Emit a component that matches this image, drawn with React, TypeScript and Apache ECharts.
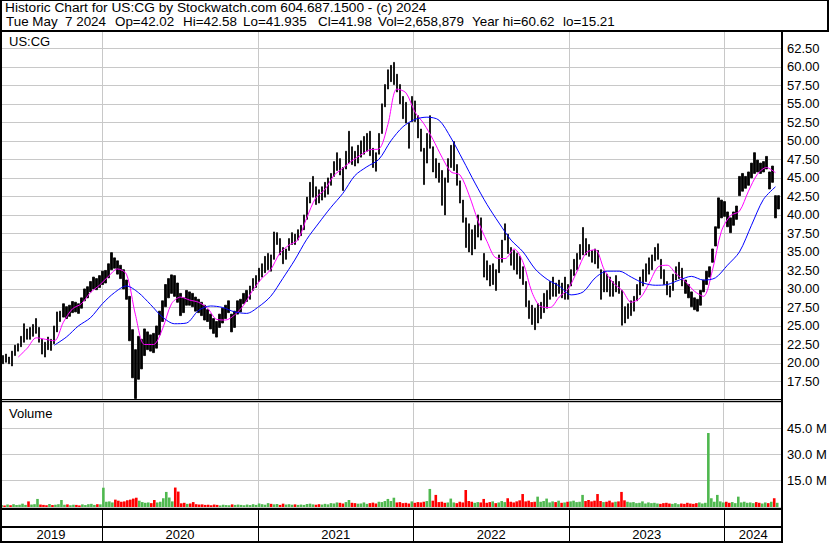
import React, { useEffect, useRef } from "react";
import * as echarts from "echarts";

// ---- data (weekly samples, May 2019 .. May 2024) ----
const weeklyHigh = [
  21.3, 21.0, 21.2, 20.8, 21.6, 22.4, 22.6, 23.6, 25.3, 24.6,
  24.8, 25.2, 26.0, 24.8, 23.2, 22.8, 23.5, 23.2, 25.0, 26.9,
  27.0, 28.0, 27.6, 27.8, 28.3, 28.2, 28.0, 28.8, 30.0, 30.3,
  31.0, 31.6, 31.4, 31.8, 32.4, 32.5, 33.4, 34.9, 34.2, 33.8,
  33.2, 32.6, 31.2, 29.0, 24.5, 21.8, 23.6, 23.2, 24.6, 24.2,
  23.8, 24.0, 25.0, 27.0, 28.4, 30.6, 31.4, 31.9, 31.8, 30.8,
  29.4, 28.8, 29.8, 29.6, 29.4, 28.9, 28.6, 28.2, 27.8, 27.2,
  26.6, 26.0, 25.6, 26.6, 27.4, 27.8, 28.4, 26.6, 27.0, 28.4,
  28.6, 29.4, 29.8, 30.4, 31.4, 31.8, 32.8, 33.4, 34.4, 34.8,
  34.6, 37.7, 37.6, 36.8, 35.6, 35.4, 36.8, 37.6, 37.4, 38.0,
  38.6, 40.0, 42.4, 44.4, 45.2, 43.8, 43.4, 43.8, 44.4, 45.0,
  45.6, 47.2, 48.4, 47.6, 46.4, 48.6, 51.3, 49.2, 48.6, 49.4,
  50.0, 50.6, 51.0, 51.3, 49.0, 48.4, 51.0, 55.0, 57.6, 59.6,
  60.2, 60.6, 59.0, 57.6, 56.0, 55.2, 52.4, 56.0, 55.4, 53.4,
  51.6, 49.0, 51.0, 53.4, 49.2, 47.6, 47.0, 46.0, 45.0, 47.6,
  49.4, 49.9, 46.8, 44.6, 42.0, 39.6, 38.8, 38.0, 38.6, 40.0,
  39.6, 34.8, 33.8, 33.2, 33.4, 32.6, 34.6, 36.6, 38.8, 37.4,
  35.6, 35.2, 34.8, 34.4, 33.0, 31.0, 28.4, 27.8, 27.4, 28.0,
  28.2, 29.4, 29.8, 31.0, 31.6, 30.8, 31.2, 30.8, 31.6, 30.6,
  32.6, 34.0, 34.8, 36.0, 38.3, 36.8, 36.0, 35.2, 35.4, 35.2,
  32.6, 32.4, 32.0, 31.6, 31.0, 31.8, 31.0, 29.8, 27.6, 28.0,
  28.4, 29.0, 30.6, 31.6, 32.6, 33.4, 34.2, 34.6, 35.6, 36.1,
  34.0, 32.6, 31.0, 30.4, 32.0, 33.0, 33.6, 32.8, 31.2, 30.6,
  29.6, 28.8, 28.6, 29.8, 31.2, 32.4, 33.0, 35.4, 38.4, 42.3,
  42.0, 41.8, 40.4, 39.6, 40.4, 41.2, 45.2, 45.6, 45.2, 45.8,
  47.0, 48.4, 47.4, 47.0, 47.2, 47.9, 45.8, 46.6, 42.6, 42.6,
];

const weeklyLow = [
  20.2, 19.9, 20.1, 19.9, 19.6, 21.0, 21.6, 22.2, 22.8, 23.2,
  23.2, 23.6, 24.0, 22.8, 21.2, 20.8, 21.8, 21.7, 22.6, 24.2,
  25.6, 26.2, 26.0, 26.3, 26.8, 26.9, 26.7, 27.4, 28.4, 28.8,
  29.6, 30.0, 29.9, 30.2, 30.6, 30.8, 31.5, 32.6, 32.8, 32.0,
  31.4, 30.0, 28.6, 23.0, 18.0, 15.2, 17.8, 19.2, 21.0, 21.8,
  21.6, 21.4, 22.0, 23.8, 25.6, 27.6, 28.8, 29.4, 29.0, 28.2,
  26.4, 26.8, 27.8, 27.8, 27.6, 27.0, 26.8, 26.4, 25.8, 25.6,
  24.6, 24.0, 23.5, 24.8, 25.4, 26.0, 26.8, 24.2, 24.8, 26.6,
  26.9, 28.0, 28.3, 28.6, 29.8, 30.2, 31.0, 31.6, 32.2, 32.6,
  32.4, 34.0, 36.0, 34.6, 33.4, 34.0, 35.2, 36.0, 36.0, 36.6,
  37.2, 38.0, 39.4, 41.6, 42.4, 41.4, 41.6, 42.0, 42.4, 42.8,
  44.0, 45.2, 46.0, 45.4, 43.3, 46.2, 47.0, 46.8, 46.6, 47.0,
  47.8, 48.2, 48.6, 48.0, 46.4, 45.9, 48.2, 51.0, 54.6, 57.0,
  58.0, 57.6, 56.6, 55.0, 53.0, 52.4, 49.0, 52.6, 52.6, 50.4,
  48.6, 44.1, 47.0, 49.0, 45.8, 45.0, 44.4, 41.3, 40.0, 44.4,
  46.4, 46.0, 44.0, 41.6, 39.0, 35.6, 35.0, 34.6, 35.4, 37.0,
  36.6, 31.6, 31.2, 30.4, 30.6, 29.8, 32.2, 33.6, 36.6, 34.8,
  33.2, 32.6, 32.0, 31.4, 30.6, 27.6, 26.0, 25.2, 24.5, 25.4,
  26.0, 26.8, 27.4, 28.6, 29.0, 29.0, 29.4, 28.8, 28.6, 28.6,
  30.4, 31.8, 32.6, 34.0, 34.6, 34.6, 34.4, 33.6, 33.4, 32.8,
  28.6, 29.6, 29.6, 29.0, 29.0, 29.6, 29.4, 25.1, 25.4, 26.0,
  26.4, 27.0, 28.4, 29.2, 30.4, 31.0, 32.0, 32.6, 33.8, 34.0,
  31.4, 30.6, 29.2, 28.9, 29.8, 31.2, 31.4, 30.4, 29.4, 28.8,
  27.6, 27.2, 27.0, 27.8, 29.6, 30.6, 31.6, 33.6, 35.8, 38.2,
  39.6, 39.8, 38.4, 37.6, 38.6, 39.4, 42.6, 43.2, 43.6, 44.0,
  45.0, 45.6, 45.8, 45.6, 45.8, 46.2, 43.5, 44.4, 39.6, 40.8,
];

// volume in millions of shares
const weeklyVolume = [
  1.2, 0.9, 1.4, 1.0, 1.6, 1.1, 1.3, 1.9, 1.2, 3.2,
  1.4, 1.6, 4.6, 1.4, 1.2, 1.0, 1.7, 1.1, 1.3, 1.6,
  4.0, 1.3, 1.5, 1.0, 1.3, 1.2, 0.9, 1.5, 1.1, 1.6,
  1.8, 1.2, 1.6, 1.5, 11.0, 3.0, 3.2, 2.6, 4.2, 3.6,
  3.0, 3.2, 3.8, 4.2, 4.8, 5.3, 3.6, 2.8, 2.4, 2.6,
  2.2, 4.0, 2.6, 3.0, 5.0, 8.6, 5.4, 3.2, 11.1, 8.8,
  2.1, 2.4, 1.8, 2.0, 2.8, 1.6, 1.4, 1.5, 1.2, 1.3,
  1.0, 1.4, 1.2, 0.9, 1.3, 1.1, 1.0, 1.5, 1.2, 1.4,
  1.2, 1.0, 1.4, 1.1, 1.6, 1.2, 2.0, 1.6, 1.3, 2.2,
  1.8, 1.5, 1.7, 1.2, 1.9, 1.4, 1.6, 1.3, 1.5, 1.2,
  1.4, 1.2, 1.7, 1.9, 1.5, 1.3, 1.6, 1.4, 1.8, 1.5,
  2.2, 2.0, 2.6, 2.4, 2.0, 2.8, 4.0, 2.4, 2.2, 1.9,
  2.0, 2.6, 1.8, 2.2, 2.5, 2.0, 3.0, 2.8, 3.4, 4.6,
  3.4, 5.3, 2.6, 2.8, 2.2, 2.4, 2.0, 3.2, 2.4, 2.8,
  2.6, 3.0, 3.4, 10.3, 3.6, 6.9, 2.8, 3.0, 2.4, 2.6,
  4.8, 2.6, 2.2, 3.0, 2.6, 9.7, 3.4, 3.0, 2.4, 2.8,
  2.6, 4.6, 2.4, 2.8, 3.2, 2.2, 2.6, 3.4, 2.8, 5.0,
  3.0, 2.6, 3.2, 3.8, 7.4, 3.2, 3.6, 2.8, 3.0, 5.9,
  3.0, 3.4, 4.8, 2.6, 3.2, 2.8, 3.6, 2.4, 2.6, 3.0,
  3.2, 3.6, 2.8, 3.0, 6.9, 3.4, 4.0, 3.2, 3.6, 7.4,
  3.4, 2.8, 3.0, 3.6, 2.6, 3.0, 3.2, 8.6, 3.8, 3.0,
  2.6, 2.8, 2.2, 2.4, 3.2, 2.0, 2.6, 2.2, 2.4, 2.0,
  1.8, 2.2, 2.4, 2.0, 1.8, 2.2, 1.6, 2.0, 1.8, 2.4,
  2.0, 1.8, 2.2, 2.6, 2.0, 2.4, 42.2, 5.0, 3.0, 6.9,
  3.2, 2.6, 3.0, 2.4, 2.8, 2.2, 5.9, 2.6, 3.0, 2.4,
  2.6, 2.2, 2.8, 2.4, 2.0, 2.6, 2.2, 3.0, 5.0, 2.4,
];

// magenta moving average, read every 3rd week starting at week 6
const fastMAStart = 6;
const fastMAStep = 3;
const fastMA = [
  20.8, 22.0, 23.4, 23.2, 23.0, 25.5, 27.3, 28.0, 29.5, 30.5,
  31.7, 32.7, 32.0, 26.5, 22.5, 22.5, 24.6, 28.0, 28.9, 28.5,
  28.2, 27.4, 25.9, 25.8, 26.5, 27.8, 29.8, 31.4, 32.6, 34.8,
  35.9, 36.6, 39.6, 42.3, 43.4, 45.3, 46.3, 47.3, 48.1, 48.8,
  48.9, 52.2, 57.0, 56.5, 53.9, 52.3, 50.2, 47.8, 45.8, 45.4,
  42.7, 39.2, 36.4, 34.2, 34.1, 35.4, 33.6, 29.5, 27.6, 27.5,
  28.9, 30.0, 32.4, 34.9, 35.3, 32.6, 30.8, 29.8, 28.2, 28.8,
  30.8, 33.0, 33.2, 32.0, 31.0, 29.7, 29.0, 32.5, 37.8, 39.9,
  40.5, 43.2, 45.5, 46.4, 45.7,
];

// blue moving average, read every 4th week starting at week 18
const slowMAStart = 18;
const slowMAStep = 4;
const slowMA = [
  22.4, 23.5, 25.0, 26.1, 28.0, 29.5, 30.4, 29.5, 27.9, 26.2,
  25.3, 25.4, 27.1, 27.7, 27.5, 26.9, 26.7, 27.6, 29.0, 31.4,
  33.9, 36.7, 38.9, 41.0, 42.9, 45.3, 46.5, 47.5, 50.0, 51.9,
  52.9, 53.2, 52.8, 50.4, 47.4, 44.3, 41.4, 38.9, 36.6, 35.0,
  32.7, 31.3, 30.4, 29.2, 29.6, 31.5, 32.4, 32.4, 31.6, 30.8,
  30.5, 30.6, 31.2, 31.7, 31.2, 31.5, 33.2, 35.0, 38.6, 42.1,
  43.8,
];

const yearLabels = [2019, 2020, 2021, 2022, 2023, 2024];

// header texts
const headerLine1 = "Historic Chart for US:CG by Stockwatch.com 604.687.1500 - (c) 2024";
const headerLine2 = ["Tue May\u00a0\u00a07 2024", "Op=42.02", "Hi=42.58", "Lo=41.935", "Cl=41.98", "Vol=2,658,879", "Year hi=60.62", "lo=15.21"];
const headerLine2X = [6, 115, 183, 243, 318, 378, 472, 563];

// ---- time frame ----
const FIRST_TS = Date.UTC(2019, 4, 7);
const LAST_TS = Date.UTC(2024, 4, 7);
const X_MIN = Date.UTC(2019, 4, 6, 10);
const X_MAX = Date.UTC(2024, 4, 15, 5);
const N = weeklyHigh.length;
const weekTs = (i: number) => FIRST_TS + (i * (LAST_TS - FIRST_TS)) / (N - 1);

const FONT = "Liberation Sans";
const RED = "#ff0000";
const GREEN = "#4fb84f";
const GRID_GRAY = "#c8c8c8";

const txt = (text: string, x: number, y: number, size = 13) => ({
  type: "text",
  x,
  y,
  z: 100,
  silent: true,
  style: {
    text,
    fill: "#000",
    fontSize: size,
    fontFamily: FONT,
    lineHeight: 13,
    verticalAlign: "middle",
  },
});

export default function App() {
  const ref = useRef<HTMLDivElement>(null);

  useEffect(() => {
    document.body.style.margin = "0";
    if (!ref.current) return;
    const chart = echarts.init(ref.current, undefined, { renderer: "svg" });

    const priceData = weeklyHigh.map((h, i) => [weekTs(i), weeklyLow[i], h, weeklyLow[i], h]);
    const mid = weeklyHigh.map((h, i) => (h + weeklyLow[i]) / 2);
    const volData = weeklyVolume.map((v, i) => ({
      value: [weekTs(i), v],
      itemStyle: { color: i === 0 || mid[i] >= mid[i - 1] ? GREEN : RED },
    }));
    const fastData = fastMA.map((v, k) => [weekTs(fastMAStart + fastMAStep * k), v]);
    const slowData = slowMA.map((v, k) => [weekTs(slowMAStart + slowMAStep * k), v]);
    const yearSpans = yearLabels.map((y) => [
      Math.max(Date.UTC(y, 0, 1), X_MIN),
      Math.min(Date.UTC(y + 1, 0, 1), X_MAX),
    ]);
    const boundaries = yearLabels.slice(1).map((y) => ({ xAxis: Date.UTC(y, 0, 1) }));

    const yearMarkLine = (color: string) => ({
      silent: true,
      symbol: ["none", "none"],
      label: { show: false },
      z: 1,
      lineStyle: { color, type: "solid", width: 1 },
      emphasis: { disabled: true },
      data: boundaries,
    });

    const xAxisBase = {
      type: "time",
      min: X_MIN,
      max: X_MAX,
      axisLine: { show: false },
      axisTick: { show: false },
      axisLabel: { show: false },
      splitLine: { show: false },
    };

    const frame = [
      { x: 0, y: 0, w: 829, h: 1 },
      { x: 827, y: 0, w: 2, h: 31 },
      { x: 0, y: 30, w: 829, h: 2 },
      { x: 0, y: 0, w: 2, h: 543 },
      { x: 781, y: 30, w: 2, h: 513 },
      { x: 0, y: 399, w: 782, h: 1 },
      { x: 0, y: 401, w: 782, h: 1 },
      { x: 0, y: 508, w: 782, h: 2 },
      { x: 0, y: 526, w: 782, h: 2 },
      { x: 0, y: 541, w: 782, h: 2 },
    ];

    chart.setOption({
      animation: false,
      backgroundColor: "#ffffff",
      grid: [
        { left: 0, right: 48, top: 31, height: 369 },
        { left: 0, right: 48, top: 402, height: 105 },
        { left: 0, right: 48, top: 509, height: 32 },
      ],
      xAxis: [
        { ...xAxisBase, gridIndex: 0 },
        { ...xAxisBase, gridIndex: 1 },
        { ...xAxisBase, gridIndex: 2 },
      ],
      yAxis: [
        {
          gridIndex: 0,
          type: "value",
          position: "right",
          min: 15,
          max: 64.84,
          interval: 2.5,
          axisLine: { show: false },
          axisTick: { show: false },
          splitLine: { lineStyle: { color: GRID_GRAY, width: 1 } },
          axisLabel: {
            margin: 5,
            color: "#000",
            fontFamily: FONT,
            fontSize: 13,
            formatter: (v: number) => (v >= 17 && v <= 63 && Math.abs(v / 2.5 - Math.round(v / 2.5)) < 1e-6 ? v.toFixed(2) : ""),
          },
        },
        {
          gridIndex: 1,
          type: "value",
          position: "right",
          min: 0,
          max: 59.9,
          interval: 15,
          axisLine: { show: false },
          axisTick: { show: false },
          splitLine: { lineStyle: { color: GRID_GRAY, width: 1 } },
          axisLabel: {
            margin: 5,
            color: "#000",
            fontFamily: FONT,
            fontSize: 13,
            formatter: (v: number) => (v > 1 && v < 59 ? v.toFixed(1) + " M" : ""),
          },
        },
        {
          gridIndex: 2,
          type: "value",
          min: 0,
          max: 1,
          show: false,
        },
      ],
      series: [
        {
          name: "price",
          type: "candlestick",
          xAxisIndex: 0,
          yAxisIndex: 0,
          z: 2,
          barWidth: 1.8,
          encode: { x: 0, y: [1, 2, 3, 4] },
          data: priceData,
          itemStyle: { color: "#000", color0: "#000", borderColor: "#000", borderColor0: "#000", borderWidth: 0.8 },
          markLine: yearMarkLine(GRID_GRAY),
          silent: true,
        },
        {
          name: "fast",
          type: "line",
          xAxisIndex: 0,
          yAxisIndex: 0,
          z: 3,
          showSymbol: false,
          smooth: 0.3,
          data: fastData,
          lineStyle: { color: "#ff00ff", width: 1 },
          silent: true,
        },
        {
          name: "slow",
          type: "line",
          xAxisIndex: 0,
          yAxisIndex: 0,
          z: 3,
          showSymbol: false,
          smooth: 0.3,
          data: slowData,
          lineStyle: { color: "#0000ff", width: 1 },
          silent: true,
        },
        {
          name: "volume",
          type: "bar",
          xAxisIndex: 1,
          yAxisIndex: 1,
          z: 2,
          barWidth: 2.6,
          data: volData,
          markLine: yearMarkLine(GRID_GRAY),
          silent: true,
        },
        {
          name: "years",
          type: "custom",
          xAxisIndex: 2,
          yAxisIndex: 2,
          silent: true,
          clip: false,
          data: yearSpans,
          encode: { x: [0, 1] },
          markLine: yearMarkLine("#000"),
          renderItem: (params: any, api: any) => {
            const s = api.coord([api.value(0), 0.2]);
            const e = api.coord([api.value(1), 0.2]);
            return {
              type: "text",
              x: (s[0] + e[0]) / 2,
              y: s[1],
              style: {
                text: String(yearLabels[params.dataIndex]),
                fill: "#000",
                fontSize: 13,
                fontFamily: FONT,
                align: "center",
                verticalAlign: "middle",
              },
            };
          },
        },
      ],
      graphic: [
        ...frame.map((r) => ({
          type: "rect",
          silent: true,
          z: 100,
          shape: { x: r.x, y: r.y, width: r.w, height: r.h },
          style: { fill: "#000" },
        })),
        txt(headerLine1, 5, 7.5, 13.7),
        ...headerLine2.map((t, i) => txt(t, headerLine2X[i], 21.5, 13.4)),
        txt("US:CG", 9, 41),
        txt("Volume", 9, 413),
      ],
    });

    return () => chart.dispose();
  }, []);

  return <div ref={ref} style={{ width: 830, height: 543 }} />;
}
